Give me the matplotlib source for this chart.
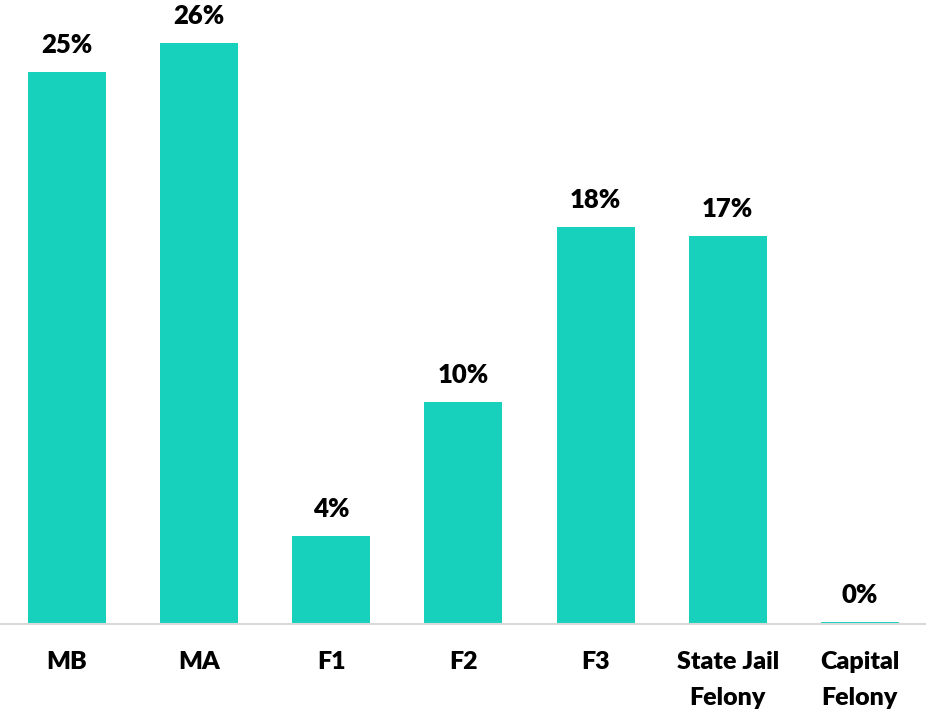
import matplotlib
matplotlib.use("Agg")
import matplotlib.pyplot as plt

categories = ["MB", "MA", "F1", "F2", "F3", "State Jail\nFelony", "Capital\nFelony"]
values = [24.6, 25.9, 3.9, 9.9, 17.7, 17.3, 0.06]
labels = ["25%", "26%", "4%", "10%", "18%", "17%", "0%"]

plt.rcParams['font.family'] = ['Lato', 'DejaVu Sans']

fig = plt.figure(figsize=(9.26, 7.14), dpi=100)
ax = fig.add_axes([0.0, (714 - 623.5) / 714, 1.0, 623.5 / 714])

x = list(range(len(categories)))
bars = ax.bar(x, values, width=0.59, color="#17D1BD", zorder=2)
ax.set_xlim(-0.506, 6.5)
ax.set_ylim(0, 623.5 / 22.4)

for xi, v, lab in zip(x, values, labels):
    ax.annotate(lab, (xi, v), xytext=(0, 13.7), textcoords="offset points",
                ha="center", va="baseline", fontsize=18.5, fontweight="heavy", color="black")

for s in ["top", "right", "left"]:
    ax.spines[s].set_visible(False)
ax.spines["bottom"].set_color("#D9D9D9")
ax.spines["bottom"].set_linewidth(1.5)
ax.spines["bottom"].set_zorder(3)
ax.set_yticks([])
ax.set_xticks(x)
ax.set_xticklabels(categories, fontsize=18, fontweight="heavy", linespacing=1.74)
ax.tick_params(axis="x", length=0, pad=20)

fig.savefig("out.png", dpi=100)
